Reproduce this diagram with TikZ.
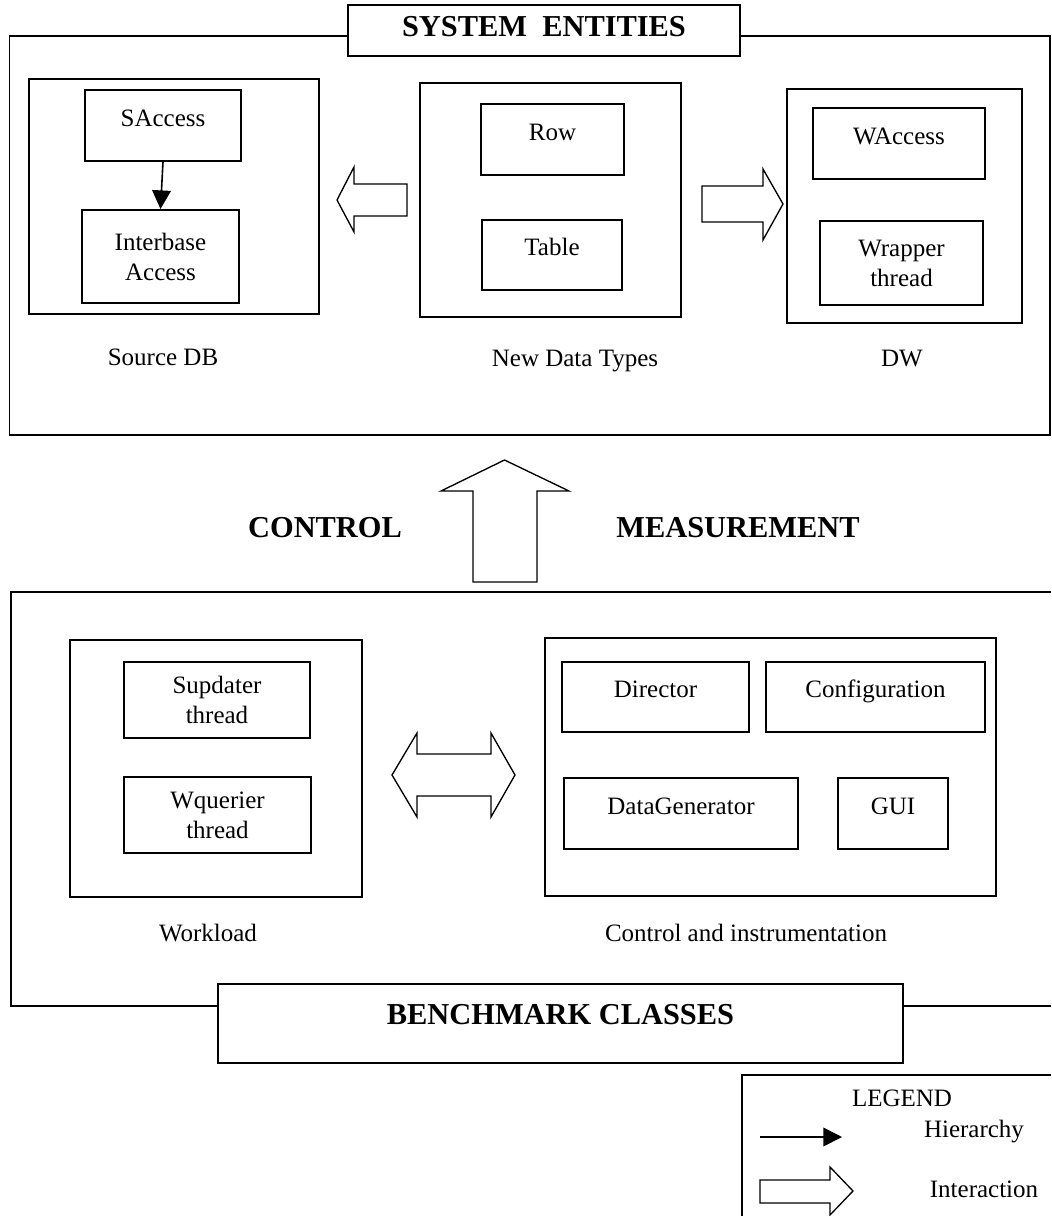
\documentclass[tikz,border=0pt]{standalone}
\usepackage{fontspec}
\setmainfont{Liberation Serif}
\usetikzlibrary{arrows.meta}
\begin{document}
\begin{tikzpicture}[x=0.75pt,y=-0.75pt,
  bx/.style 2 args={draw, line width=1.4pt, inner sep=0pt, align=center,
    minimum width=#1*0.75pt, minimum height=#2*0.75pt,
    font=\fontsize{18.75}{22.5}\selectfont},
  one/.style={text height=0.7em, text depth=0.56em},
  frame/.style={draw, line width=1.4pt},
  lbl/.style={inner sep=0pt, text height=0.66em, text depth=0pt,
    font=\fontsize{18.75}{22.5}\selectfont},
  big/.style={inner sep=0pt, text height=0.66em, text depth=0pt,
    font=\fontsize{22.8}{27}\selectfont\bfseries},
  ttl/.style 2 args={draw, fill=white, line width=1.4pt, inner sep=0pt,
    minimum width=#1*0.75pt, minimum height=#2*0.75pt,
    font=\fontsize{22.8}{27}\selectfont\bfseries},
  blk/.style={draw, line width=1pt, line join=miter, fill=white},
  hier/.style={draw, line width=1.2pt, -{Triangle[length=14pt,width=14pt]}},
]
\useasboundingbox (0,0) rectangle (1051,1216);

% ---------- SYSTEM ENTITIES ----------
\draw[frame] (9.5,36) rectangle (1050,435);
\node[ttl={392}{51}, text height=0.96em, text depth=0pt] (se) at (544,30.5) {SYSTEM\ \ ENTITIES};

\node[bx={290}{235}] (srcdb) at (174,196.5) {};
\node[bx={156}{71}, one] (sacc) at (163,125.5) {SAccess};
\node[bx={157}{93}] (inter) at (160.5,256.5) {Interbase\\Access};
\draw[hier] (sacc.south) -- (inter.north);

\node[bx={261}{234}] (ndt) at (550.5,200) {};
\node[bx={143}{71}, one] (row) at (552.5,139.5) {Row};
\node[bx={140}{70}, one] (table) at (552,255) {Table};

\node[bx={235}{234}] (dw) at (904.5,206) {};
\node[bx={172}{71}, one] (wacc) at (899,143.5) {WAccess};
\node[bx={163}{84}] (wrap) at (901.5,263) {Wrapper\\thread};

\node[lbl] (lsrc) at (163,361) {Source DB};
\node[lbl] (lndt) at (575,362) {New Data Types};
\node[lbl] (ldw) at (902,362) {DW};

% interaction arrows (top)
\draw[blk] (407,184) -- (354,184) -- (354,167) -- (337,200) -- (354,232) -- (354,216) -- (407,216) -- cycle;
\draw[blk] (702,186) -- (763,186) -- (763,169) -- (783,204) -- (763,240) -- (763,222) -- (702,222) -- cycle;

% ---------- middle ----------
\draw[blk] (473,582) -- (473,491) -- (441,491) -- (504.5,460) -- (569,491) -- (537,491) -- (537,582) -- cycle;
\node[big] (ctl) at (325,533) {CONTROL};
\node[big] (meas) at (738,533) {MEASUREMENT};

% ---------- BENCHMARK CLASSES ----------
\draw[frame] (218,1006) -- (11,1006) -- (11,592) -- (1051,592);
\draw[frame] (903,1006) -- (1051,1006);
\node[ttl={685}{79}, text height=0.7em, text depth=0.54em] (bc) at (560.5,1023.5) {BENCHMARK CLASSES};

\node[bx={292}{257}] (wl) at (216,768.5) {};
\node[bx={186}{76}] (sup) at (217,700) {Supdater\\thread};
\node[bx={187}{76}] (wq) at (217.5,815) {Wquerier\\thread};

\node[bx={451}{258}] (ctrl) at (770.5,767) {};
\node[bx={187}{70}, one] (dir) at (655.5,697) {Director};
\node[bx={219}{70}, one] (conf) at (875.5,697) {Configuration};
\node[bx={234}{71}, one] (dg) at (681,813.5) {DataGenerator};
\node[bx={110}{71}, one] (gui) at (893,813.5) {GUI};

\node[lbl] (lwl) at (208,937) {Workload};
\node[lbl] (lctrl) at (746,937) {Control and instrumentation};

\draw[blk] (392,775) -- (417,733) -- (417,754) -- (491,754) -- (491,733) -- (515,775) -- (491,817) -- (491,796) -- (417,796) -- (417,817) -- cycle;

% ---------- LEGEND ----------
\draw[frame] (742,1216) -- (742,1075) -- (1051,1075);
\node[lbl] (leg) at (902,1102) {LEGEND};
\coordinate (h1) at (760,1137);
\coordinate (h2) at (842,1137);
\draw[hier] (h1) -- (h2);
\node[lbl] (lh) at (974,1133) {Hierarchy};
\draw[blk] (760,1180) -- (830,1180) -- (830,1167) -- (853,1191) -- (830,1215) -- (830,1203) -- (760,1203) -- cycle;
\node[lbl] (li) at (984,1193) {Interaction};
\end{tikzpicture}
\end{document}
